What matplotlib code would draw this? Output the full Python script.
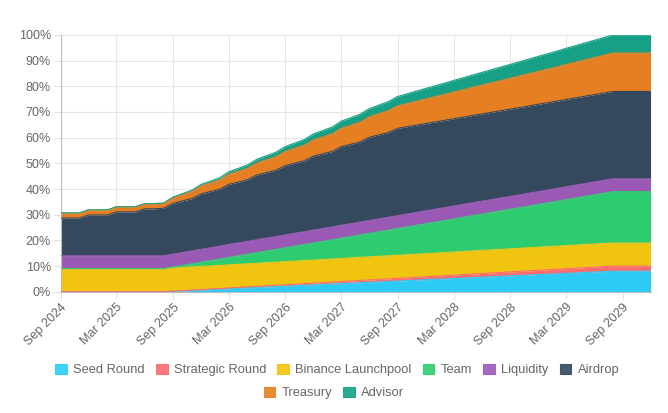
import matplotlib
matplotlib.use('Agg')
import matplotlib.pyplot as plt
import matplotlib.dates as mdates
from matplotlib.patches import Patch
import numpy as np
import pandas as pd

# monthly unlock schedule, % of total supply (Sep 2024 .. Dec 2029)
months = pd.date_range('2024-09-01', '2029-12-01', freq='MS')

seed_round = [0] * 12 + [
    0.17, 0.33, 0.5, 0.67, 0.83, 1.0, 1.17, 1.33, 1.5, 1.67, 1.83, 2.0,
    2.17, 2.33, 2.5, 2.67, 2.83, 3.0, 3.17, 3.33, 3.5, 3.67, 3.83, 4.0,
    4.17, 4.33, 4.5, 4.67, 4.83, 5.0, 5.17, 5.33, 5.5, 5.67, 5.83, 6.0,
    6.17, 6.33, 6.5, 6.67, 6.83, 7.0, 7.17, 7.33, 7.5, 7.67, 7.83, 8.0,
    8.0, 8.0, 8.0, 8.0]
strategic_round = [0] * 12 + [
    0.04, 0.08, 0.13, 0.17, 0.21, 0.25, 0.29, 0.33, 0.38, 0.42, 0.46, 0.5,
    0.54, 0.58, 0.63, 0.67, 0.71, 0.75, 0.79, 0.83, 0.88, 0.92, 0.96, 1.0,
    1.04, 1.08, 1.13, 1.17, 1.21, 1.25, 1.29, 1.33, 1.38, 1.42, 1.46, 1.5,
    1.54, 1.58, 1.63, 1.67, 1.71, 1.75, 1.79, 1.83, 1.88, 1.92, 1.96, 2.0,
    2.0, 2.0, 2.0, 2.0]
launchpool = [9.0] * 64
team = [0] * 12 + [
    0.42, 0.83, 1.25, 1.67, 2.08, 2.5, 2.92, 3.33, 3.75, 4.17, 4.58, 5.0,
    5.42, 5.83, 6.25, 6.67, 7.08, 7.5, 7.92, 8.33, 8.75, 9.17, 9.58, 10.0,
    10.42, 10.83, 11.25, 11.67, 12.08, 12.5, 12.92, 13.33, 13.75, 14.17, 14.58, 15.0,
    15.42, 15.83, 16.25, 16.67, 17.08, 17.5, 17.92, 18.33, 18.75, 19.17, 19.58, 20.0,
    20.0, 20.0, 20.0, 20.0]
liquidity = [5.0] * 64
airdrop = [
    14.7, 14.7, 14.7, 15.9, 15.9, 15.9, 17.1, 17.1, 17.1, 18.3, 18.3, 18.5,
    19.8, 20.1, 20.4, 21.6, 21.9, 22.2, 23.4, 23.7, 24.0, 25.2, 25.5, 25.8,
    27.0, 27.3, 27.6, 28.8, 29.1, 29.4, 30.6, 30.9, 31.2, 32.4, 32.7, 33.0,
    34.0] + [34.0] * 27
treasury = [2.0] * 12 + [
    2.27, 2.54, 2.81, 3.08, 3.35, 3.63, 3.9, 4.17, 4.44, 4.71, 4.98, 5.25,
    5.52, 5.79, 6.06, 6.33, 6.6, 6.88, 7.15, 7.42, 7.69, 7.96, 8.23, 8.5,
    8.77, 9.04, 9.31, 9.58, 9.85, 10.13, 10.4, 10.67, 10.94, 11.21, 11.48, 11.75,
    12.02, 12.29, 12.56, 12.83, 13.1, 13.38, 13.65, 13.92, 14.19, 14.46, 14.73, 15.0,
    15.0, 15.0, 15.0, 15.0]
advisor = [0] * 12 + [
    0.15, 0.29, 0.44, 0.58, 0.73, 0.88, 1.02, 1.17, 1.31, 1.46, 1.6, 1.75,
    1.9, 2.04, 2.19, 2.33, 2.48, 2.63, 2.77, 2.92, 3.06, 3.21, 3.35, 3.5,
    3.65, 3.79, 3.94, 4.08, 4.23, 4.38, 4.52, 4.67, 4.81, 4.96, 5.1, 5.25,
    5.4, 5.54, 5.69, 5.83, 5.98, 6.13, 6.27, 6.42, 6.56, 6.71, 6.85, 7.0,
    7.0, 7.0, 7.0, 7.0]

labels = ['Seed Round', 'Strategic Round', 'Binance Launchpool', 'Team',
          'Liquidity', 'Airdrop', 'Treasury', 'Advisor']
series = [seed_round, strategic_round, launchpool, team,
          liquidity, airdrop, treasury, advisor]
colors = ['#2ccbf6', '#fc6c6e', '#f1c40f', '#2ecc71',
          '#9b59b6', '#34495e', '#e67e22', '#16a085']

plt.rcParams['font.family'] = ['Liberation Sans', 'DejaVu Sans']

fig = plt.figure(figsize=(6.68, 4.13), dpi=100)
ax = fig.add_axes([0.0909, 0.2937, 0.883, 0.6216])

bottom = np.zeros(len(months))
for vals, col in zip(series, colors):
    top = bottom + np.array(vals, dtype=float)
    ax.fill_between(months, bottom, top, color=col, lw=0, zorder=2)
    ax.plot(months, top, color=col, lw=0.8, zorder=3)
    bottom = top

ax.set_ylim(0, 100)
ax.set_yticks(np.arange(0, 101, 10))
ax.set_yticklabels(['%d%%' % v for v in range(0, 101, 10)])
ax.set_xlim(months[0], months[-1])
ax.xaxis.set_major_locator(mdates.MonthLocator(bymonth=[3, 9]))
ax.xaxis.set_major_formatter(mdates.DateFormatter('%b %Y'))
plt.setp(ax.get_xticklabels(), rotation=45, ha='right', rotation_mode='anchor')

ax.grid(True, color='#e6e6e6', lw=0.8, zorder=0)
ax.set_axisbelow(True)
ax.tick_params(axis='both', colors='#e0e0e0', labelcolor='#666666',
               labelsize=9, length=5, width=0.8, pad=2)
for side in ['top', 'right']:
    ax.spines[side].set_visible(False)
for side in ['left', 'bottom']:
    ax.spines[side].set_color('#bdbdbd')
    ax.spines[side].set_linewidth(0.8)

handles = [Patch(facecolor=c, edgecolor=c, alpha=0.9, lw=0.8) for c in colors]
leg1 = fig.legend(handles[:6], labels[:6], loc='center', bbox_to_anchor=(0.505, 1 - 370 / 413),
                  ncol=6, frameon=False, fontsize=9.3, handlelength=0.9, handleheight=0.9,
                  handletextpad=0.5, columnspacing=0.85, labelcolor='#666666')
leg2 = fig.legend(handles[6:], labels[6:], loc='center', bbox_to_anchor=(0.5, 1 - 393 / 413),
                  ncol=2, frameon=False, fontsize=9.3, handlelength=0.9, handleheight=0.9,
                  handletextpad=0.5, columnspacing=0.85, labelcolor='#666666')

fig.savefig('out.png', dpi=100)
